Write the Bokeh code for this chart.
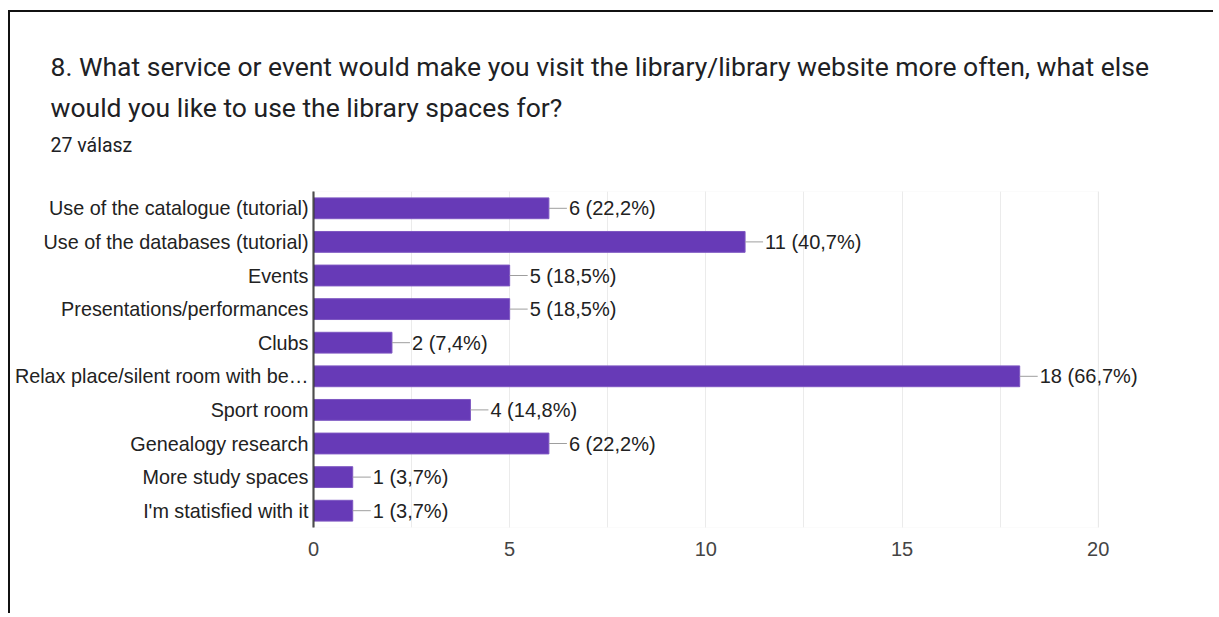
from bokeh.plotting import figure
from bokeh.models import (ColumnDataSource, LabelSet, Title, SingleIntervalTicker, Range1d, BoxAnnotation)
from bokeh.core.properties import value
from bokeh.embed import file_html
from bokeh.resources import INLINE

categories = [
    "Use of the catalogue (tutorial)",
    "Use of the databases (tutorial)",
    "Events",
    "Presentations/performances",
    "Clubs",
    "Relax place/silent room with be\u2026",
    "Sport room",
    "Genealogy research",
    "More study spaces",
    "I'm statisfied with it",
]
counts = [6, 11, 5, 5, 2, 18, 4, 6, 1, 1]
percents = ["22,2%", "40,7%", "18,5%", "18,5%", "7,4%", "66,7%", "14,8%", "22,2%", "3,7%", "3,7%"]
x_ticks = [0, 5, 10, 15, 20]

title_line1 = "8. What service or event would make you visit the library/library website more often, what else"
title_line2 = "would you like to use the library spaces for?"
subtitle = "27 válasz"

labels = [f"{c} ({p})" for c, p in zip(counts, percents)]
src = ColumnDataSource(dict(cat=categories, val=counts, lab=labels))

W, H = 1205, 603
p = figure(width=W, height=H, y_range=list(reversed(categories)),
           x_range=Range1d(x_ticks[0], 22.2), output_backend="svg", toolbar_location=None,
           min_border_left=303, min_border_right=31, min_border_top=179, min_border_bottom=88)
p.styles = {"border-top": "2px solid #111", "border-left": "2px solid #111",
            "margin-left": "8px", "margin-top": "10px"}

p.hbar(y="cat", right="val", height=0.62, source=src, fill_color="#673ab7", line_color="#7e57c2", line_width=1)
p.ray(x="val", y="cat", length=18, angle=0, length_units="screen", source=src, line_color="#9e9e9e", line_width=1)

ls = LabelSet(x="val", y="cat", text="lab", x_offset=20, source=src, text_baseline="middle",
              text_font=value("Liberation Sans"), text_font_size="20px", text_color="#222222")
p.add_layout(ls)

p.add_layout(BoxAnnotation(left=x_ticks[0], right=x_ticks[-1], fill_color=None, fill_alpha=0,
                           line_color="#e6e6e6", line_width=1))

p.xaxis.ticker = SingleIntervalTicker(interval=5, num_minor_ticks=2)
p.xaxis.major_tick_line_color = None
p.xaxis.minor_tick_line_color = None
p.xaxis.major_tick_out = 0
p.xaxis.minor_tick_out = 0
p.xaxis.axis_line_color = None
p.xaxis.major_label_standoff = 14
p.xaxis.major_label_text_font = "Liberation Sans"
p.xaxis.major_label_text_font_size = "20px"
p.xaxis.major_label_text_color = "#444444"

p.yaxis.major_tick_line_color = None
p.yaxis.minor_tick_line_color = None
p.yaxis.major_tick_out = 0
p.yaxis.minor_tick_out = 0
p.yaxis.axis_line_color = "#333333"
p.yaxis.axis_line_width = 2
p.yaxis.major_label_standoff = 5
p.yaxis.major_label_text_font = "Liberation Sans"
p.yaxis.major_label_text_font_size = "19.8px"
p.yaxis.major_label_text_color = "#222222"

p.ygrid.grid_line_color = None
p.xgrid.grid_line_color = "#ebebeb"
p.xgrid.minor_grid_line_color = "#ebebeb"
p.outline_line_color = None

# spacer between the plot area and the subtitle
p.add_layout(Title(text=" ", align="left", standoff=32, text_font_size="1px"), "above")
p.add_layout(Title(text=subtitle, align="left", offset=-263, standoff=0,
                   text_font="Roboto", text_font_size="19.5px", text_font_style="normal",
                   text_color="#202124"), "above")
p.add_layout(Title(text=title_line2, align="left", offset=-263, standoff=17,
                   text_font="Roboto", text_font_size="26.5px", text_font_style="normal",
                   text_color="#202124"), "above")
p.add_layout(Title(text=title_line1, align="left", offset=-263, standoff=0,
                   text_font="Roboto", text_font_size="26.5px", text_font_style="normal",
                   text_color="#202124"), "above")

open("out.html", "w").write(file_html(p, INLINE))
